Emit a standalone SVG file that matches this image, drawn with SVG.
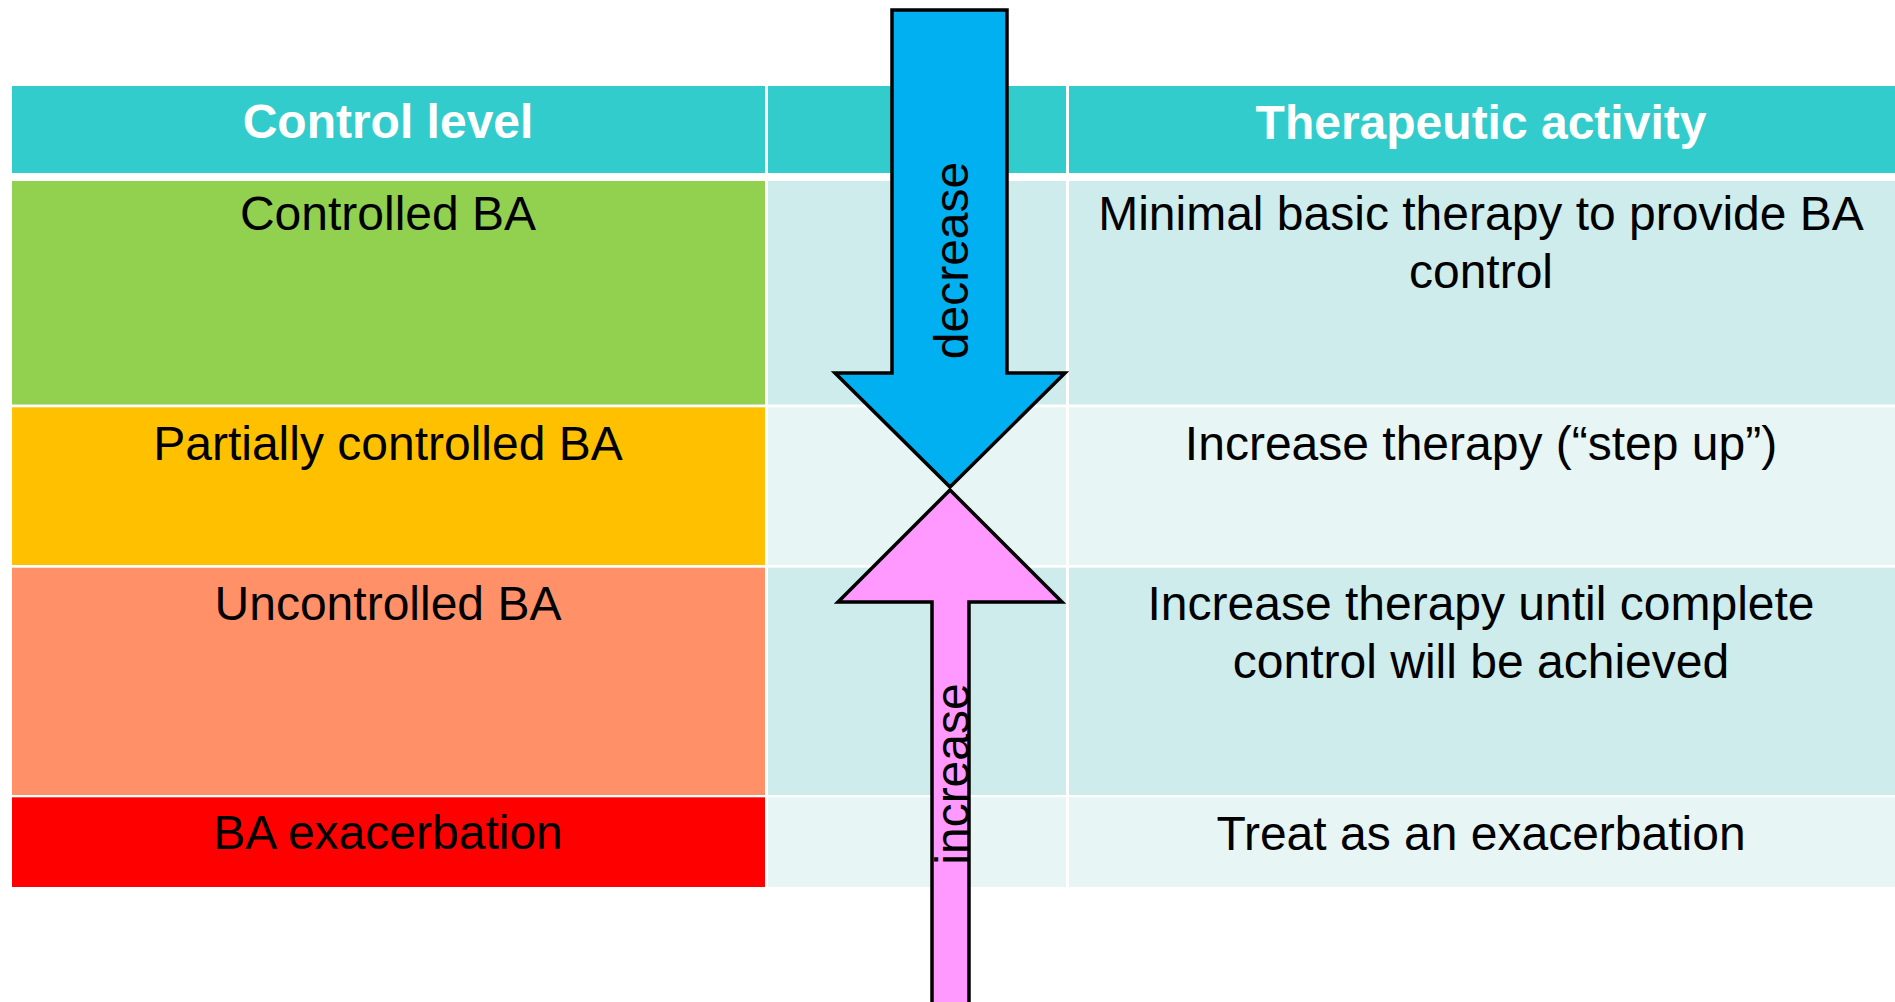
<svg xmlns="http://www.w3.org/2000/svg" width="1895" height="1002" viewBox="0 0 1895 1002">
<style>
.t{font-family:"Liberation Sans",Arial,sans-serif;font-size:48px;fill:#000;text-anchor:middle}
.h{font-family:"Liberation Sans",Arial,sans-serif;font-size:48px;font-weight:bold;fill:#fff;text-anchor:middle}
.hd{fill:#33CCCC}
.la{fill:#CEECEB}
.lb{fill:#E8F5F5}
.arr{stroke:#000;stroke-width:3.5;stroke-linejoin:miter}
</style>
<rect width="1895" height="1002" fill="#fff"/>
<g id="header">
<rect class="hd" x="12" y="86" width="753" height="87"/>
<rect class="hd" x="768" y="86" width="298" height="87"/>
<rect class="hd" x="1069" y="86" width="826" height="87"/>
<text class="h" x="388" y="138">Control level</text>
<text class="h" x="1481" y="139">Therapeutic activity</text>
</g>
<g id="row-controlled">
<rect x="12" y="181" width="753" height="223.5" fill="#92D050"/>
<rect class="la" x="768" y="181" width="298" height="223.5"/>
<rect class="la" x="1069" y="181" width="826" height="223.5"/>
<text class="t" x="388" y="230">Controlled BA</text>
<text class="t" x="1481" y="230">Minimal basic therapy to provide BA</text>
<text class="t" x="1481" y="288">control</text>
</g>
<g id="row-partial">
<rect x="12" y="407.3" width="753" height="157.7" fill="#FFC000"/>
<rect class="lb" x="768" y="407.3" width="298" height="157.7"/>
<rect class="lb" x="1069" y="407.3" width="826" height="157.7"/>
<text class="t" x="388" y="460">Partially controlled BA</text>
<text class="t" x="1481" y="460">Increase therapy (“step up”)</text>
</g>
<g id="row-uncontrolled">
<rect x="12" y="567.7" width="753" height="227.3" fill="#FF9068"/>
<rect class="la" x="768" y="567.7" width="298" height="227.3"/>
<rect class="la" x="1069" y="567.7" width="826" height="227.3"/>
<text class="t" x="388" y="620">Uncontrolled BA</text>
<text class="t" x="1481" y="620">Increase therapy until complete</text>
<text class="t" x="1481" y="678">control will be achieved</text>
</g>
<g id="row-exacerbation">
<rect x="12" y="797.3" width="753" height="89.7" fill="#FF0000"/>
<rect class="lb" x="768" y="797.3" width="298" height="89.7"/>
<rect class="lb" x="1069" y="797.3" width="826" height="89.7"/>
<text class="t" x="388" y="849">BA exacerbation</text>
<text class="t" x="1481" y="850">Treat as an exacerbation</text>
</g>
<g id="connectors">
<g id="arrow-decrease">
<polygon class="arr" fill="#00B0F0" points="892,10 1007,10 1007,373 1065,373 950,487 835,373 892,373"/>
<text class="t" transform="translate(968,260.5) rotate(-90)">decrease</text>
</g>
<g id="arrow-increase">
<polygon class="arr" fill="#FF99FF" points="950,490 1062,602 969,602 969,1010 932,1010 932,602 838,602"/>
<text class="t" transform="translate(969,774) rotate(-90)">increase</text>
</g>
</g>
</svg>
